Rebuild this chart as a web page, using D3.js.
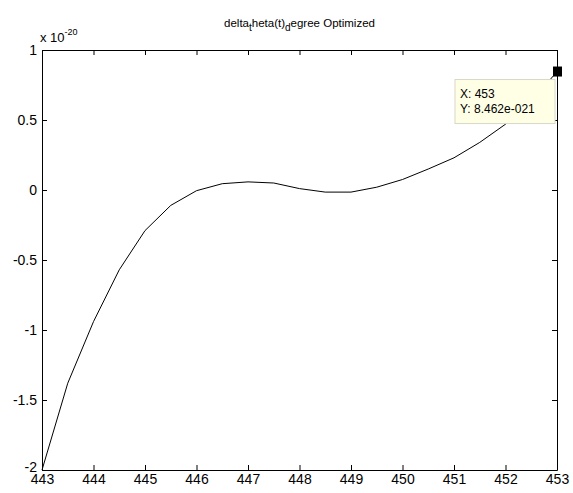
<!DOCTYPE html>
<html>
<head>
<meta charset="utf-8">
<script src="https://cdn.jsdelivr.net/npm/d3@7"></script>
<style>
  body { margin: 0; background: #fff; }
  svg { font-family: "Liberation Sans", Arial, sans-serif; }
  .axis path, .axis line { stroke: #000; }
  .axis text { font-size: 14px; fill: #000; }
</style>
</head>
<body>
<svg id="chart" width="573" height="493"></svg>
<script>
// values (y in units of 1e-20)
var xValues = [443, 443.5, 444, 444.5, 445, 445.5, 446, 446.5, 447, 447.5, 448,
    448.5, 449, 449.5, 450, 450.5, 451, 451.5, 452, 452.5, 453];
var yValues = [-2.0, -1.38, -0.94, -0.57, -0.29, -0.11, -0.005, 0.045, 0.058, 0.05, 0.01,
    -0.015, -0.015, 0.02, 0.075, 0.15, 0.23, 0.34, 0.47, 0.63, 0.846];
var xTicks = [443, 444, 445, 446, 447, 448, 449, 450, 451, 452, 453];
var yTicks = [-2, -1.5, -1, -0.5, 0, 0.5, 1];
var tipX = 453;
var tipY = 0.8462;
var tipLines = ["X: 453", "Y: 8.462e-021"];

var margin = {top: 50, right: 16, bottom: 23, left: 42};
var width = 573 - margin.left - margin.right;
var height = 493 - margin.top - margin.bottom;

var svg = d3.select("#chart");
var chart = svg.append("g")
    .attr("transform", `translate(${margin.left}, ${margin.top})`);

var xScale = d3.scaleLinear().domain([443, 453]).range([0, width]);
var yScale = d3.scaleLinear().domain([-2, 1]).range([height, 0]);

var fmtY = function(d) { return d === 0 ? "0" : String(d); };

// axes, MATLAB box style with inward ticks
chart.append("g")
    .attr("class", "axis")
    .attr("transform", `translate(0, ${height})`)
    .call(d3.axisBottom(xScale).tickValues(xTicks).tickFormat(d3.format("d"))
        .tickSizeInner(-5).tickSizeOuter(0).tickPadding(5))
    .selectAll("text").attr("dy", "0.62em");
chart.append("g")
    .attr("class", "axis")
    .call(d3.axisTop(xScale).tickValues(xTicks).tickFormat("")
        .tickSizeInner(-5).tickSizeOuter(0));
var yAxisG = chart.append("g")
    .attr("class", "axis")
    .call(d3.axisLeft(yScale).tickValues(yTicks).tickFormat(fmtY)
        .tickSizeInner(-5).tickSizeOuter(0).tickPadding(5));
// lift the bottom label a little, as in the reference
yAxisG.selectAll("text").filter(function(d) { return d === -2; })
    .attr("dy", "0.1em");
chart.append("g")
    .attr("class", "axis")
    .attr("transform", `translate(${width}, 0)`)
    .call(d3.axisRight(yScale).tickValues(yTicks).tickFormat("")
        .tickSizeInner(-5).tickSizeOuter(0));

var data = xValues.map(function(x, i) { return {x: x, y: yValues[i]}; });

var line = d3.line()
    .x(function(d) { return xScale(d.x); })
    .y(function(d) { return yScale(d.y); });

chart.append("path")
    .datum(data)
    .attr("d", line)
    .attr("fill", "none")
    .attr("stroke", "#000")
    .attr("stroke-width", 1);

// exponent label
var expo = svg.append("text")
    .attr("x", margin.left - 2)
    .attr("y", margin.top - 8)
    .style("font-size", "13px");
expo.append("tspan").text("x 10");
expo.append("tspan").attr("dy", -7).style("font-size", "9px").text("-20");

// title with stray subscripts
var title = svg.append("text")
    .attr("x", margin.left + width / 2)
    .attr("y", 27)
    .style("text-anchor", "middle")
    .style("font-size", "11.5px");
title.append("tspan").text("delta");
title.append("tspan").attr("dy", 4).style("font-size", "10px").text("t");
title.append("tspan").attr("dy", -4).text("heta(t)");
title.append("tspan").attr("dy", 4).style("font-size", "10px").text("d");
title.append("tspan").attr("dy", -4).text("egree Optimized");

// data tip
var tip = chart.append("g")
    .attr("transform", `translate(${xScale(tipX) - 102}, ${yScale(tipY) + 8})`);
tip.append("rect")
    .attr("width", 100)
    .attr("height", 44)
    .attr("fill", "#ffffe6")
    .attr("stroke", "#d8d8c8");
tip.selectAll("text.tip")
    .data(tipLines)
    .enter().append("text")
        .attr("class", "tip")
        .attr("x", 5)
        .attr("y", function(d, i) { return 18 + i * 15; })
        .style("font-size", "12px")
        .text(function(d) { return d; });

chart.append("rect")
    .attr("x", xScale(tipX) - 4)
    .attr("y", yScale(tipY) - 5)
    .attr("width", 9)
    .attr("height", 10)
    .attr("fill", "#000");
</script>
</body>
</html>
